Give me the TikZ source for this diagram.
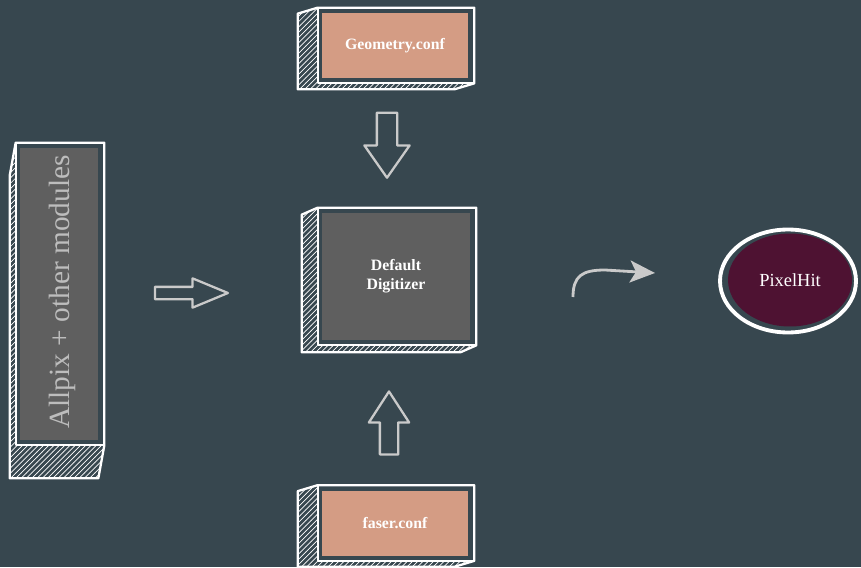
\documentclass[tikz,border=0pt]{standalone}
\usepackage{fontspec}
\setmainfont{Liberation Serif}
\newfontfamily\diagfont{Liberation Serif}
\usetikzlibrary{positioning,calc,arrows.meta,shapes.geometric,shapes.arrows,patterns}

\definecolor{slatebg}{HTML}{37474F}
\definecolor{confsalmon}{HTML}{D49C84}
\definecolor{digigray}{HTML}{5F5F5F}
\definecolor{hitmaroon}{HTML}{4E1232}
\definecolor{arrowgray}{HTML}{CACACA}
\definecolor{labelgray}{HTML}{BDBDBD}

% hand-drawn 3D frame round a filled node: #1 node, #2/#3 depth offset (px)
\newcommand{\sketchframe}[3]{%
  \fill[pattern=north east lines,pattern color=white]
    ($(#1.north west)+(-4,-5)$) -- ($(#1.south west)+(-4,5)$) -- ($(#1.south east)+(6,5)$)
    -- ++(#2,#3) -- ($(#1.south west)+(-4,5)+(#2,#3)$) -- ($(#1.north west)+(-4,-5)+(#2,#3)$) -- cycle;
  \draw[sketchline] ($(#1.north west)+(-4,-5)$) -- ($(#1.north east)+(6,-5)$) -- ($(#1.south east)+(6,5)$)
    -- ++(#2,#3) -- ($(#1.south west)+(-4,5)+(#2,#3)$) -- ($(#1.north west)+(-4,-5)+(#2,#3)$) -- cycle;
  \draw[sketchline] ($(#1.north west)+(-4,-5)$) -- ($(#1.south west)+(-4,5)$) -- ($(#1.south east)+(6,5)$);
}

\begin{document}
\begin{tikzpicture}[x=0.02cm,y=-0.02cm,
    sketchline/.style={draw=white,line width=1.3pt,line join=round},
    confbox/.style={fill=confsalmon,minimum width=2.92cm,minimum height=1.3cm,text=white,font=\diagfont\bfseries\fontsize{9}{11}\selectfont},
    digibox/.style={fill=digigray,minimum width=2.96cm,minimum height=2.54cm,text=white,align=center,font=\diagfont\bfseries\fontsize{9}{11}\selectfont},
    modbox/.style={fill=digigray,minimum width=1.56cm,minimum height=5.84cm},
    blockarrow/.style={single arrow,draw=arrowgray,line width=1.3pt,line join=round},
    hitnode/.style={ellipse,fill=hitmaroon,minimum width=2.48cm,minimum height=1.86cm,text=white,font=\diagfont\fontsize{10.5}{12}\selectfont},
    hitring/.style={ellipse,draw=white,line width=2.2pt,minimum width=2.72cm,minimum height=2.06cm},
    bendarrow/.style={-{Stealth[length=0.5cm,width=0.44cm,inset=0.12cm]},arrowgray,line width=1.6pt},
]
\fill[slatebg] (0,0) rectangle (861,567);

\node[confbox] (geometry) at (395,45.5) {Geometry.conf};
\node[digibox] (digitizer) at (396,276.5) {Default\\Digitizer};
\node[confbox] (faser) at (395,523) {faser.conf};
\node[modbox]  (allpix) at (59,294) {};
\node[rotate=90,text=labelgray,font=\diagfont\fontsize{16.7}{18}\selectfont] (allpixlabel) at (62,292) {Allpix + other modules};

\sketchframe{geometry}{-20}{6}
\sketchframe{digitizer}{-16}{7}
\sketchframe{faser}{-20}{6}
\sketchframe{allpix}{-6}{33}

% block arrows into the digitizer
\node[blockarrow,minimum height=1.46cm,minimum width=0.54cm,inner sep=0.1cm,
      single arrow head extend=0.17cm,single arrow tip angle=45] (intoright) at (184,293) {};
\node[blockarrow,rotate=-90,minimum height=1.3cm,minimum width=0.86cm,inner sep=0.18cm,
      single arrow head extend=0.25cm,single arrow tip angle=70] (intodown) at (387,138) {};
\node[blockarrow,rotate=90,minimum height=1.26cm,minimum width=0.76cm,inner sep=0.16cm,
      single arrow head extend=0.22cm,single arrow tip angle=66] (intoup) at (389,430) {};

% output
\node[hitring] (pixelring) at (788,281) {};
\node[hitnode] (pixelhit) at (790,280) {PixelHit};

\coordinate (bendstart) at (573,297);
\coordinate (bendtip) at (655,273);
\draw[bendarrow] (bendstart) .. controls (573,276) and (582,270) .. (605,270) -- (bendtip);
\end{tikzpicture}
\end{document}
